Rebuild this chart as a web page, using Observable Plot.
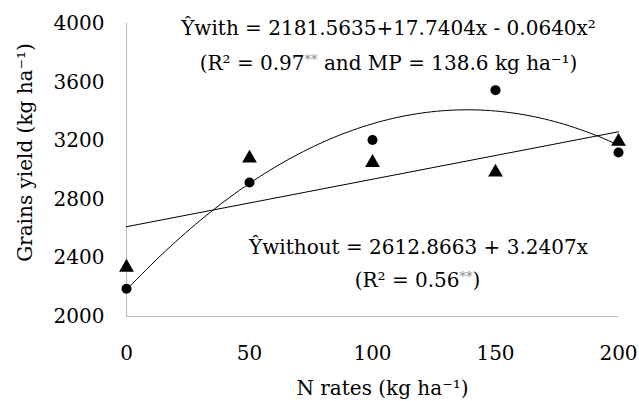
<!DOCTYPE html>
<html>
<head>
<meta charset="utf-8">
<script src="https://cdn.jsdelivr.net/npm/d3@7"></script>
<script src="https://cdn.jsdelivr.net/npm/@observablehq/plot@0.6"></script>
<style>
  html, body { margin: 0; padding: 0; background: #fff; }
  svg { display: block; }
</style>
</head>
<body>
<div id="chart"></div>
<script>
// ---- data ----
const rates = [0, 50, 100, 150, 200];
const yieldWith = [2190, 2915, 3205, 3545, 3120];      // circles
const yieldWithout = [2335, 3080, 3050, 2985, 3195];   // triangles
const xTicks = [0, 50, 100, 150, 200];
const yTicks = [2000, 2400, 2800, 3200, 3600, 4000];
// printed regression coefficients
const coefWith = [2181.5635, 17.7404, -0.0640];
const coefWithout = [2612.8663, 3.2407];
const eqWith = ["Ŷwith = 2181.5635+17.7404x - 0.0640x²", "(R² = 0.97** and MP = 138.6 kg ha⁻¹)"];
const eqWithout = ["Ŷwithout = 2612.8663 + 3.2407x", "(R² = 0.56**)"];
const xLabel = "N rates (kg ha⁻¹)";
const yLabel = "Grains yield (kg ha⁻¹)";

const ptsWith = rates.map((x, i) => ({x, y: yieldWith[i]}));
const ptsWithout = rates.map((x, i) => ({x, y: yieldWithout[i]}));
const poly = (c, x) => c.reduce((s, a, k) => s + a * Math.pow(x, k), 0);
const xs = d3.range(0, 200.01, 2);
const curveWith = xs.map(x => ({x, y: poly(coefWith, x)}));
const lineWithout = [0, 200].map(x => ({x, y: poly(coefWithout, x)}));

const font = "DejaVu Serif, serif";
const axisColor = "#bfbfbf";
const fs = 20;

const plot = Plot.plot({
  width: 639,
  height: 401,
  marginLeft: 126,
  marginRight: 21,
  marginTop: 23,
  marginBottom: 85,
  style: {fontFamily: font, fontSize: fs + "px", color: "#000", background: "#fff"},
  x: {domain: [0, 200], label: null},
  y: {domain: [2000, 4000], label: null},
  marks: [
    Plot.axisX({ticks: xTicks, tickSize: 0, tickPadding: 29, tickFormat: "d", fontSize: fs, label: null}),
    Plot.axisY({ticks: yTicks, tickSize: 0, tickPadding: 22, tickFormat: "d", fontSize: fs, label: null}),
    Plot.ruleX([0], {stroke: axisColor, strokeWidth: 1.2}),
    Plot.ruleY([2000], {stroke: axisColor, strokeWidth: 1.2}),
    Plot.line(curveWith, {x: "x", y: "y", stroke: "#000", strokeWidth: 1}),
    Plot.line(lineWithout, {x: "x", y: "y", stroke: "#000", strokeWidth: 1}),
    Plot.dot(ptsWith, {x: "x", y: "y", r: 5, fill: "#000", stroke: "none", symbol: "circle"}),
    Plot.dot(ptsWithout, {x: "x", y: "y", r: 5.5, fill: "#000", stroke: "none", symbol: "triangle"}),
    Plot.text([eqWith[0]], {frameAnchor: "top-left", dx: 262, dy: 5, textAnchor: "middle", lineAnchor: "middle", fontSize: fs}),
    Plot.text([eqWith[1]], {frameAnchor: "top-left", dx: 262, dy: 40, textAnchor: "middle", lineAnchor: "middle", fontSize: fs}),
    Plot.text([eqWithout[0]], {frameAnchor: "top-left", dx: 292, dy: 224, textAnchor: "middle", lineAnchor: "middle", fontSize: fs}),
    Plot.text([eqWithout[1]], {frameAnchor: "top-left", dx: 291, dy: 257, textAnchor: "middle", lineAnchor: "middle", fontSize: fs}),
    Plot.text([xLabel], {frameAnchor: "bottom-left", dx: 256, dy: 72, textAnchor: "middle", lineAnchor: "middle", fontSize: fs}),
    Plot.text([yLabel], {frameAnchor: "top-left", dx: -101, dy: 129, rotate: -90, textAnchor: "middle", lineAnchor: "middle", fontSize: fs})
  ]
});

// grey superscript asterisks
plot.querySelectorAll("text").forEach(el => {
  const t = el.textContent;
  if (t.includes("**") && el.children.length === 0) {
    const parts = t.split("**");
    el.textContent = "";
    parts.forEach((p, i) => {
      if (i > 0) {
        const s = document.createElementNS("http://www.w3.org/2000/svg", "tspan");
        s.setAttribute("fill", "#8a8a8a");
        s.setAttribute("font-size", "13");
        s.setAttribute("dy", "-6");
        s.textContent = "**";
        el.appendChild(s);
      }
      const n = document.createElementNS("http://www.w3.org/2000/svg", "tspan");
      if (i > 0) n.setAttribute("dy", "6");
      n.textContent = p;
      el.appendChild(n);
    });
  }
});

document.getElementById("chart").appendChild(plot);
</script>
</body>
</html>
